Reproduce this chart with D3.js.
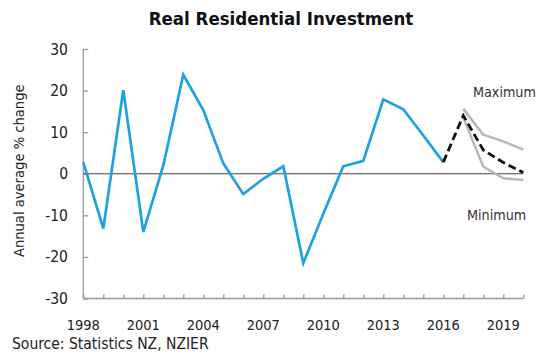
<!DOCTYPE html>
<html><head><meta charset="utf-8">
<script src="https://cdn.jsdelivr.net/npm/d3@7/dist/d3.min.js"></script>
<style>body{margin:0;background:#fff}svg{display:block}</style>
</head><body><svg id="c" width="547" height="359"></svg>
<script>
const years = d3.range(1998, 2021);
const actualYears = d3.range(1998, 2017);
const actual = [2.8, -13.2, 20.1, -14.0, 2.0, 23.8, 15.3, 2.5, -4.9, -1.2, 1.8, -21.5, -9.6, 1.8, 3.1, 17.9, 15.5, 9.2, 2.8];
const forecastYears = [2016, 2017, 2018, 2019, 2020];
const forecast = [2.8, 14.0, 5.7, 2.7, 0.3];
const rangeYears = [2017, 2018, 2019, 2020];
const maximum = [15.6, 9.4, 7.8, 5.8];
const minimum = [13.5, 1.7, -1.1, -1.5];
const yTicks = [-30, -20, -10, 0, 10, 20, 30];
const xLabels = [1998, 2001, 2004, 2007, 2010, 2013, 2016, 2019];

const font = "'DejaVu Sans Condensed','DejaVu Sans',sans-serif";
const svg = d3.select('#c');
const L = 83.3, R = 523.3, T = 49, B = 298.5;
const x = d3.scaleLinear().domain([1998, 2020]).range([L, R]);
const y = d3.scaleLinear().domain([-30, 30]).range([B, T]);

svg.append('text').attr('x', 281).attr('y', 25).attr('text-anchor', 'middle')
  .attr('font-family', font).attr('font-weight', 'bold').attr('font-size', 18.5).attr('fill', '#111')
  .text('Real Residential Investment');

// y axis
const ya = svg.append('g').attr('transform', `translate(${L},0)`)
  .call(d3.axisRight(y).tickValues(yTicks).tickSize(5).tickFormat(''));
ya.select('.domain').attr('stroke', '#999').attr('stroke-width', 1.3).attr('d', `M0,${T}V${B}`);
ya.selectAll('.tick line').attr('stroke', '#999').attr('stroke-width', 1.3);
svg.append('g').selectAll('text').data(yTicks).join('text')
  .attr('x', 68).attr('y', d => y(d)).attr('dy', '0.36em').attr('text-anchor', 'end')
  .attr('font-family', font).attr('font-size', 15.5).attr('fill', '#222').text(d => d);

// x axis
const xa = svg.append('g').attr('transform', `translate(0,${B})`)
  .call(d3.axisTop(x).tickValues(years).tickSize(4).tickFormat(''));
xa.select('.domain').attr('stroke', '#999').attr('stroke-width', 1.3).attr('d', `M${L},0H${R}`);
xa.selectAll('.tick line').attr('stroke', '#999').attr('stroke-width', 1.3);
svg.append('g').selectAll('text').data(xLabels).join('text')
  .attr('x', d => x(d)).attr('y', 330).attr('text-anchor', 'middle')
  .attr('font-family', font).attr('font-size', 14.5).attr('fill', '#222').text(d => d);

// zero line
svg.append('line').attr('x1', L).attr('x2', R).attr('y1', y(0)).attr('y2', y(0))
  .attr('stroke', '#444').attr('stroke-width', 1.1);

svg.append('text').attr('transform', `translate(24,${(T + B) / 2 - 3}) rotate(-90)`)
  .attr('text-anchor', 'middle').attr('font-family', font).attr('font-size', 14.6).attr('fill', '#222')
  .text('Annual average % change');

const line = d3.line().x(d => x(d[0])).y(d => y(d[1]));
svg.append('path').datum(rangeYears.map((d, i) => [d, maximum[i]])).attr('d', line)
  .attr('fill', 'none').attr('stroke', '#b8b8b8').attr('stroke-width', 2.5);
svg.append('path').datum(rangeYears.map((d, i) => [d, minimum[i]])).attr('d', line)
  .attr('fill', 'none').attr('stroke', '#b8b8b8').attr('stroke-width', 2.5);
svg.append('path').datum(actualYears.map((d, i) => [d, actual[i]])).attr('d', line)
  .attr('fill', 'none').attr('stroke', '#1da1e3').attr('stroke-width', 2.7).attr('stroke-linejoin', 'miter');
svg.append('path').datum(forecastYears.map((d, i) => [d, forecast[i]])).attr('d', line)
  .attr('fill', 'none').attr('stroke', '#111').attr('stroke-width', 2.8).attr('stroke-dasharray', '8,4');

svg.append('text').attr('x', 473).attr('y', 97).attr('font-family', font).attr('font-size', 14.2).attr('fill', '#333').text('Maximum');
svg.append('text').attr('x', 467).attr('y', 220).attr('font-family', font).attr('font-size', 14.2).attr('fill', '#333').text('Minimum');

svg.append('text').attr('x', 12).attr('y', 349).attr('font-family', font).attr('font-size', 15.5).attr('fill', '#222')
  .text('Source: Statistics NZ, NZIER');
</script></body></html>
